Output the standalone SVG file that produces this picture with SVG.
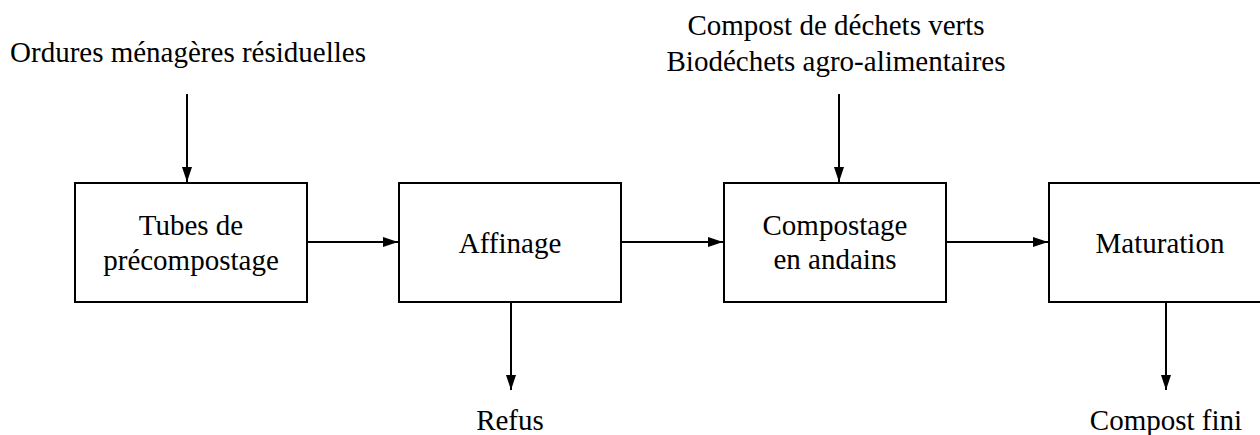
<svg xmlns="http://www.w3.org/2000/svg" width="1260" height="435" viewBox="0 0 1260 435">
<style>
.box{fill:#fff;stroke:#000;stroke-width:2}
.t{font-family:"Liberation Serif","Times New Roman",serif;font-size:29px;fill:#000;text-anchor:middle}
.c{stroke:#000;stroke-width:2;fill:none;marker-end:url(#ah)}
</style>
<defs>
<marker id="ah" markerWidth="16" markerHeight="10" refX="15" refY="5" orient="auto" markerUnits="userSpaceOnUse">
<path d="M0,0 L15,5 L0,10 Z" fill="#000"/>
</marker>
</defs>
<rect width="1260" height="435" fill="#fff"/>
<g id="connectors">
<line class="c" x1="187" y1="94" x2="187" y2="182"/>
<line class="c" x1="307" y1="242" x2="398" y2="242"/>
<line class="c" x1="621" y1="242" x2="723" y2="242"/>
<line class="c" x1="946" y1="242" x2="1048" y2="242"/>
<line class="c" x1="839" y1="94" x2="839" y2="182"/>
<line class="c" x1="511" y1="302" x2="511" y2="390"/>
<line class="c" x1="1166" y1="302" x2="1166" y2="390"/>
</g>
<g id="n1"><rect class="box" x="75" y="183" width="232" height="119"/>
<text class="t" x="191" y="235">Tubes de</text><text class="t" x="191" y="270">précompostage</text></g>
<g id="n2"><rect class="box" x="399" y="183" width="222" height="119"/>
<text class="t" x="510" y="253">Affinage</text></g>
<g id="n3"><rect class="box" x="724" y="183" width="222" height="119"/>
<text class="t" x="835" y="235">Compostage</text><text class="t" x="835" y="269">en andains</text></g>
<g id="n4"><rect class="box" x="1049" y="183" width="222" height="119"/>
<text class="t" x="1160" y="253">Maturation</text></g>
<g id="labels">
<text class="t" x="188" y="62">Ordures ménagères résiduelles</text>
<text class="t" x="836" y="35">Compost de déchets verts</text>
<text class="t" x="836" y="71">Biodéchets agro-alimentaires</text>
<text class="t" x="510" y="430">Refus</text>
<text class="t" x="1166" y="430">Compost fini</text>
</g>
</svg>
